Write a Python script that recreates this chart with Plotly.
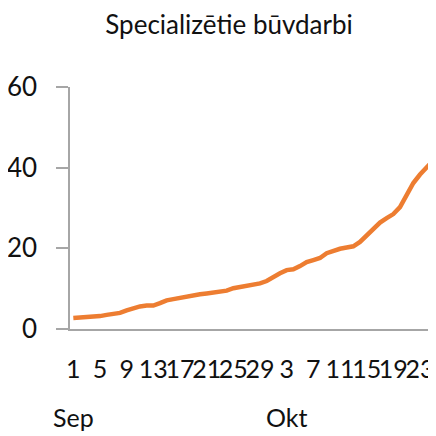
import plotly.graph_objects as go
import pandas as pd

# Data: daily values, 1 Sep – 25 Oct
start_date = "2020-09-01"
values = [2.7, 2.8, 2.9, 3.0, 3.2, 3.5, 3.7, 4.0, 4.6, 5.1,
          5.6, 5.8, 5.8, 6.4, 7.1, 7.4, 7.7, 8.2, 8.5, 8.6,
          8.8, 9.0, 9.2, 9.5, 10.1, 10.4, 10.6, 10.8, 11.3, 11.9,
          13.0, 13.8, 14.6, 14.8, 15.6, 16.6, 17.1, 17.6, 18.8, 19.4,
          19.9, 20.2, 20.5, 21.6, 23.2, 24.8, 26.4, 27.5, 28.5, 30.2,
          33.3, 36.2, 38.3, 40.2, 41.8]
dates = pd.date_range(start_date, periods=len(values), freq="D")

tick_dates = ["2020-09-01", "2020-09-05", "2020-09-09", "2020-09-13", "2020-09-17",
              "2020-09-21", "2020-09-25", "2020-09-29", "2020-10-03", "2020-10-07",
              "2020-10-11", "2020-10-15", "2020-10-19", "2020-10-23"]
tick_labels = ["1", "5", "9", "13", "17", "21", "25", "29", "3", "7", "11", "15", "19", "23"]
month_dates = ["2020-09-01", "2020-10-03"]
month_labels = ["Sep", "Okt"]
y_ticks = [0, 20, 40, 60]

title_text = "Specializētie būvdarbi"

FONT = "Lato, Roboto, sans-serif"
TXT = "#111111"
AX = "#A6A6A6"
W = H = 428  # page body has an 8px margin inside the 436px window

fig = go.Figure()
fig.add_trace(go.Scatter(x=dates, y=values, mode="lines",
                         line=dict(color="#ED7D31", width=4.5, shape="linear"),
                         hoverinfo="skip", showlegend=False))

for d, lab in zip(month_dates, month_labels):
    fig.add_annotation(x=d, y=-0.364, xref="x", yref="paper", text=lab,
                       showarrow=False, xanchor="center", yanchor="middle",
                       font=dict(family=FONT, size=25, color=TXT))

fig.update_layout(
    width=W, height=H,
    margin=dict(l=62, r=0, t=79, b=107),
    paper_bgcolor="white", plot_bgcolor="white",
    font=dict(family=FONT, size=25, color=TXT),
    title=dict(text=title_text, x=221 / W, xref="container", xanchor="center",
               y=1 - 17 / H, yref="container", yanchor="middle",
               font=dict(family=FONT, size=26, color=TXT)),
    xaxis=dict(type="date", automargin=False,
               range=[pd.Timestamp(start_date) - pd.Timedelta(hours=12),
                      pd.Timestamp(start_date) + pd.Timedelta(days=54.4)],
               tickvals=tick_dates, ticktext=tick_labels, tickangle=0,
               showgrid=False, zeroline=False, showline=True, linecolor=AX, linewidth=1.5,
               ticks="", ticklabelstandoff=17, tickfont=dict(size=25)),
    yaxis=dict(range=[0, 60], tickvals=y_ticks, showgrid=False, zeroline=False, automargin=False,
               showline=True, linecolor=AX, linewidth=1.5,
               ticks="outside", ticklen=12, tickcolor=AX, tickwidth=1.5,
               ticklabelstandoff=14, tickfont=dict(size=26)),
)

fig.write_html("out.html")
